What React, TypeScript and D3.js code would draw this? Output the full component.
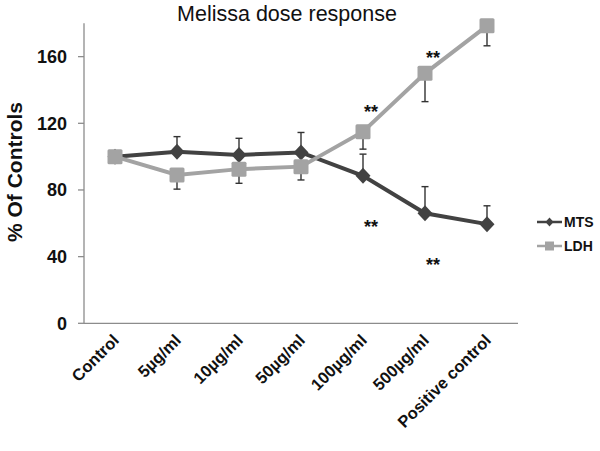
import React from "react";
import * as d3 from "d3";

const categories = ["Control", "5µg/ml", "10µg/ml", "50µg/ml", "100µg/ml", "500µg/ml", "Positive control"];
const mtsValues = [100, 103, 101, 102.5, 88.5, 66, 59.5];
const mtsErrors = [0, 9, 10, 12, 13, 16, 11];
const ldhValues = [100, 89, 92.5, 94, 115, 150, 178.5];
const ldhErrors = [0, 8.5, 8.5, 8, 10.5, 17, 12];
const yTicks = [0, 40, 80, 120, 160];
const stars = [
  { cat: "100µg/ml", value: 130 },
  { cat: "500µg/ml", value: 162 },
  { cat: "100µg/ml", value: 61 },
  { cat: "500µg/ml", value: 38 },
];

const W = 600, H = 451;
const left = 84, right = 518, top = 23.3, bottom = 323.3;
const MTS_COLOR = "#424242";
const LDH_COLOR = "#a3a3a3";
const AXIS_COLOR = "#8c8c8c";
const FONT = "Liberation Sans, Arial, sans-serif";

export default function App() {
  const x = d3.scaleBand<string>().domain(categories).range([left, right]);
  const cx = (c: string) => (x(c) as number) + x.bandwidth() / 2;
  const y = d3.scaleLinear().domain([0, 180]).range([bottom, top]);
  const line = d3.line<number>().x((_, i) => cx(categories[i])).y((d) => y(d));

  const diamond = (px: number, py: number, w: number, h: number) =>
    `M${px},${py - h / 2}L${px + w / 2},${py}L${px},${py + h / 2}L${px - w / 2},${py}Z`;

  return (
    <svg width={W} height={H} style={{ position: "absolute", left: 0, top: 0, background: "#fff" }} fontFamily={FONT}>
      <text x={287} y={21} textAnchor="middle" fontSize={21.5} fill="#111">Melissa dose response</text>
      <text transform={`translate(21.5,172) rotate(-90)`} textAnchor="middle" fontSize={21} fontWeight="bold" fill="#111">% Of Controls</text>

      {/* axes */}
      <line x1={left} x2={left} y1={top} y2={bottom} stroke={AXIS_COLOR} strokeWidth={1.3} />
      <line x1={left} x2={right} y1={bottom} y2={bottom} stroke={AXIS_COLOR} strokeWidth={1.3} />
      {yTicks.map((t) => (
        <g key={t}>
          <line x1={left - 6} x2={left} y1={y(t)} y2={y(t)} stroke={AXIS_COLOR} strokeWidth={1.3} />
          <text x={67} y={y(t) + 6.5} textAnchor="end" fontSize={18} fontWeight="bold" fill="#111">{t}</text>
        </g>
      ))}
      {categories.map((c) => (
        <text key={c} transform={`translate(${cx(c) + 5},${bottom + 18}) rotate(-45)`} textAnchor="end" fontSize={16.5} fontWeight="bold" fill="#111">{c}</text>
      ))}

      {/* error bars */}
      {categories.map((c, i) => mtsErrors[i] > 0 && (
        <g key={"me" + c} stroke="#333" strokeWidth={1.4}>
          <line x1={cx(c)} x2={cx(c)} y1={y(mtsValues[i])} y2={y(mtsValues[i] + mtsErrors[i])} />
          <line x1={cx(c) - 3.5} x2={cx(c) + 3.5} y1={y(mtsValues[i] + mtsErrors[i])} y2={y(mtsValues[i] + mtsErrors[i])} />
        </g>
      ))}
      {categories.map((c, i) => ldhErrors[i] > 0 && (
        <g key={"le" + c} stroke="#333" strokeWidth={1.4}>
          <line x1={cx(c)} x2={cx(c)} y1={y(ldhValues[i])} y2={y(ldhValues[i] - ldhErrors[i])} />
          <line x1={cx(c) - 3.5} x2={cx(c) + 3.5} y1={y(ldhValues[i] - ldhErrors[i])} y2={y(ldhValues[i] - ldhErrors[i])} />
        </g>
      ))}

      {/* MTS */}
      <path d={line(mtsValues) || ""} fill="none" stroke={MTS_COLOR} strokeWidth={4} />
      {mtsValues.map((v, i) => (
        <path key={"m" + i} d={diamond(cx(categories[i]), y(v), 15, 16)} fill={MTS_COLOR} />
      ))}
      {/* LDH */}
      <path d={line(ldhValues) || ""} fill="none" stroke={LDH_COLOR} strokeWidth={4} />
      {ldhValues.map((v, i) => (
        <rect key={"l" + i} x={cx(categories[i]) - 7.5} y={y(v) - 7.5} width={15} height={15} rx={1.5} fill={LDH_COLOR} />
      ))}

      {stars.map((s, i) => (
        <text key={"s" + i} x={cx(s.cat) + 8} y={y(s.value) + 11} textAnchor="middle" fontSize={18} fontWeight="bold" fill="#111">**</text>
      ))}

      {/* legend */}
      <line x1={537} x2={562} y1={222} y2={222} stroke={MTS_COLOR} strokeWidth={2.5} />
      <path d={diamond(549.5, 222, 8, 9)} fill={MTS_COLOR} />
      <text x={564} y={227} fontSize={14} fontWeight="bold" fill="#111">MTS</text>
      <line x1={537} x2={562} y1={246} y2={246} stroke={LDH_COLOR} strokeWidth={2.5} />
      <rect x={545} y={241.5} width={9} height={9} fill={LDH_COLOR} />
      <text x={564} y={251} fontSize={14} fontWeight="bold" fill="#111">LDH</text>
    </svg>
  );
}
